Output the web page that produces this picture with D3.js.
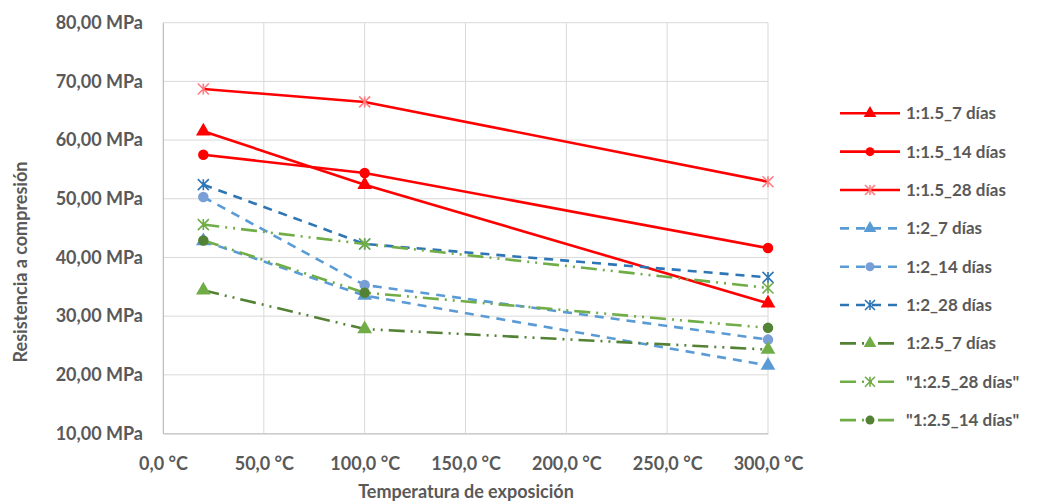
<!DOCTYPE html>
<html><head><meta charset="utf-8">
<script src="https://cdn.jsdelivr.net/npm/d3@7"></script>
<style>
html,body{margin:0;padding:0;background:#fff;}
svg text{font-family:Lato,"Open Sans",sans-serif;font-weight:bold;fill:#595959;}
</style></head>
<body><svg id="c" width="1037" height="503"></svg>
<script>
const temps = [20, 100, 300];
const xTicks = [0, 50, 100, 150, 200, 250, 300];
const yTicks = [10, 20, 30, 40, 50, 60, 70, 80];
const names = ["1:1.5_7 días","1:1.5_14 días","1:1.5_28 días","1:2_7 días","1:2_14 días","1:2_28 días","1:2.5_7 días","\"1:2.5_28 días\"","\"1:2.5_14 días\""];
const v_1_5_7  = [61.5, 52.4, 32.2];
const v_1_5_14 = [57.5, 54.4, 41.6];
const v_1_5_28 = [68.7, 66.5, 52.9];
const v_2_7    = [42.8, 33.5, 21.6];
const v_2_14   = [50.3, 35.3, 26.0];
const v_2_28   = [52.4, 42.3, 36.6];
const v_25_7   = [34.4, 27.8, 24.3];
const v_25_28  = [45.6, 42.3, 34.8];
const v_25_14  = [42.9, 34.0, 28.0];

const lineColors   = ["#ff0000","#ff0000","#ff0000","#5b9bd5","#5b9bd5","#2e75b6","#548235","#70ad47","#70ad47"];
const markerColors = ["#ff0000","#ff0000","#ff7c80","#5b9bd5","#7a9fd6","#2e75b6","#70ad47","#70ad47","#548235"];
const markerShapes = ["tri","circ","star","tri","circ","star","tri","star","circ"];
const dashes = [null,null,null,"9,7","9,7","9,7","16,6,2,6,2,6","16,6,2,6,2,6","16,6,2,6,2,6"];
const seriesValues = [v_1_5_7,v_1_5_14,v_1_5_28,v_2_7,v_2_14,v_2_28,v_25_7,v_25_28,v_25_14];

const svg = d3.select("#c");
const L = 163, R = 768, T = 22.7, B = 433.5;
const x = d3.scaleLinear().domain([0,300]).range([L,R]);
const y = d3.scaleLinear().domain([10,80]).range([B,T]);

svg.append("g").selectAll("line").data(yTicks).join("line")
  .attr("x1",L).attr("x2",R).attr("y1",d=>y(d)).attr("y2",d=>y(d))
  .attr("stroke","#d9d9d9").attr("stroke-width",1);
svg.append("g").selectAll("line").data(xTicks).join("line")
  .attr("y1",T).attr("y2",B).attr("x1",d=>x(d)).attr("x2",d=>x(d))
  .attr("stroke","#d9d9d9").attr("stroke-width",1);

const fmtY = d => d.toFixed(2).replace(".",",") + " MPa";
const fmtX = d => d.toFixed(1).replace(".",",") + " °C";
const yAx = svg.append("g").attr("transform",`translate(${L},0)`)
  .call(d3.axisLeft(y).tickValues(yTicks).tickFormat(fmtY).tickSize(0).tickPadding(20));
yAx.select(".domain").attr("stroke","#bfbfbf");
yAx.selectAll("text").style("font-size","18px").attr("fill","#595959");
const xAx = svg.append("g").attr("transform",`translate(0,${B})`)
  .call(d3.axisBottom(x).tickValues(xTicks).tickFormat(fmtX).tickSize(0).tickPadding(24));
xAx.select(".domain").attr("stroke","#bfbfbf");
xAx.selectAll("text").style("font-size","18px").attr("fill","#595959");

svg.append("text").attr("x",466).attr("y",498).attr("text-anchor","middle")
  .style("font-size","18px").text("Temperatura de exposición");
svg.append("text").attr("transform","translate(27,262) rotate(-90)").attr("text-anchor","middle")
  .style("font-size","18px").text("Resistencia a compresión");

function drawMarker(g, shape, cx, cy, color, s){
  if(shape==="tri"){
    g.append("path").attr("d",d3.symbol(d3.symbolTriangle, s*s*0.85)())
      .attr("transform",`translate(${cx},${cy})`).attr("fill",color);
  } else if(shape==="circ"){
    g.append("circle").attr("cx",cx).attr("cy",cy).attr("r",s/2).attr("fill",color);
  } else {
    const h = s/2;
    const p = `M${cx-h},${cy-h}L${cx+h},${cy+h}M${cx-h},${cy+h}L${cx+h},${cy-h}M${cx},${cy-h}L${cx},${cy+h}`;
    g.append("path").attr("d",p).attr("stroke",color).attr("stroke-width",1.6).attr("fill","none");
  }
}

const line = d3.line().x(d=>x(d[0])).y(d=>y(d[1]));
seriesValues.forEach((vals,i)=>{
  const g = svg.append("g");
  const pts = temps.map((t,j)=>[t,vals[j]]);
  g.append("path").datum(pts).attr("d",line).attr("fill","none")
    .attr("stroke",lineColors[i]).attr("stroke-width",2.6)
    .attr("stroke-dasharray",dashes[i]);
  pts.forEach(p=>drawMarker(g, markerShapes[i], x(p[0]), y(p[1]), markerColors[i], markerShapes[i]==="star"?11:10.5));
});

const lg = svg.append("g");
names.forEach((n,i)=>{
  const yy = 113.3 + i*38.35;
  lg.append("line").attr("x1",840).attr("x2",900).attr("y1",yy).attr("y2",yy)
    .attr("stroke",lineColors[i]).attr("stroke-width",2.6).attr("stroke-dasharray",dashes[i]);
  drawMarker(lg, markerShapes[i], 870, yy, markerColors[i], markerShapes[i]==="star"?10:9);
  lg.append("text").attr("x",906).attr("y",yy).attr("dy","0.35em")
    .style("font-size","17px").text(n);
});
</script></body></html>
